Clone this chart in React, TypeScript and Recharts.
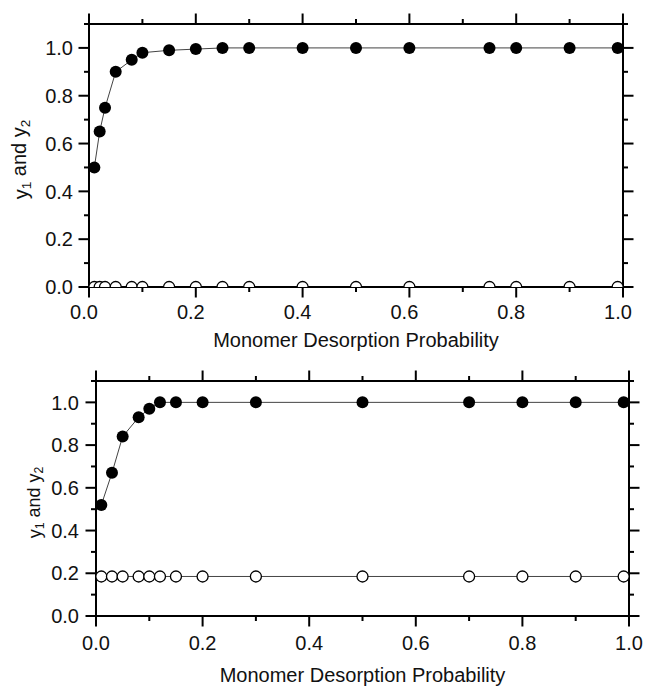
import { LineChart, Line, XAxis, YAxis } from 'recharts';

// top panel
const topX = [0.01, 0.02, 0.03, 0.05, 0.08, 0.1, 0.15, 0.2, 0.25, 0.3, 0.4, 0.5, 0.6, 0.75, 0.8, 0.9, 0.99];
const topY1 = [0.5, 0.65, 0.75, 0.9, 0.95, 0.98, 0.99, 0.995, 1, 1, 1, 1, 1, 1, 1, 1, 1];
const topY2 = [0, 0, 0, 0, 0, 0, 0, 0, 0, 0, 0, 0, 0, 0, 0, 0, 0];

// bottom panel
const bottomX = [0.01, 0.03, 0.05, 0.08, 0.1, 0.12, 0.15, 0.2, 0.3, 0.5, 0.7, 0.8, 0.9, 0.99];
const bottomY1 = [0.52, 0.67, 0.84, 0.93, 0.97, 1, 1, 1, 1, 1, 1, 1, 1, 1];
const bottomY2 = [0.185, 0.185, 0.185, 0.185, 0.185, 0.185, 0.185, 0.185, 0.185, 0.185, 0.185, 0.185, 0.185, 0.185];

const xTicks = [0, 0.1, 0.2, 0.3, 0.4, 0.5, 0.6, 0.7, 0.8, 0.9, 1.0];
const yTicks = [0, 0.1, 0.2, 0.3, 0.4, 0.5, 0.6, 0.7, 0.8, 0.9, 1.0, 1.1];

const xTitle = 'Monomer Desorption Probability';
const FONT = "'Liberation Sans', Arial, Helvetica, sans-serif";

function Tick(props: any) {
  const { x, y, payload, side, labelled, dx = 0, gap = 0 } = props;
  const v = payload.value;
  const major = Math.round(v * 10) % 2 === 0;
  const len = major ? 10.5 : 5;
  const lineProps = { stroke: '#000', strokeWidth: 2 };
  const showText = labelled && major && v <= 1.0001;
  const txt = v.toFixed(1);
  if (side === 'bottom') {
    return (
      <g>
        <line x1={x} y1={y} x2={x} y2={y + len} {...lineProps} />
        {showText && (
          <text x={x + dx} y={y + gap} textAnchor="middle" fontSize={20} fontFamily={FONT} fill="#111">{txt}</text>
        )}
      </g>
    );
  }
  if (side === 'top') {
    return <line x1={x} y1={y} x2={x} y2={y - len} {...lineProps} />;
  }
  if (side === 'left') {
    return (
      <g>
        <line x1={x} y1={y} x2={x - len} y2={y} {...lineProps} />
        {showText && (
          <text x={x - gap} y={y} dy="0.36em" textAnchor="end" fontSize={20} fontFamily={FONT} fill="#111">{txt}</text>
        )}
      </g>
    );
  }
  return <line x1={x} y1={y} x2={x + len} y2={y} {...lineProps} />;
}

function Panel(props: any) {
  const { xs, y1, y2, height, margin, xLabelGap, xLabelDx, yLabelGap, xTitleDist, yTitleDist, yTitleDy, yTitleSize } = props;
  const data = xs.map((x: number, i: number) => ({ x, y1: y1[i], y2: y2[i] }));
  const axisLine = { stroke: '#000', strokeWidth: 2, strokeLinecap: 'square' as const };
  return (
    <LineChart width={645} height={height} data={data} margin={margin}>
      <XAxis
        dataKey="x"
        type="number"
        domain={[0, 1]}
        ticks={xTicks}
        allowDataOverflow
        height={1}
        tickSize={0}
        tickMargin={0}
        tickLine={false}
        axisLine={axisLine}
        interval={0}
        tick={(p: any) => <Tick {...p} side="bottom" labelled gap={xLabelGap} dx={xLabelDx} />}
        label={(p: any) => {
          const vb = p.viewBox;
          return (
            <text x={vb.x + vb.width / 2} y={vb.y + xTitleDist} textAnchor="middle" fontSize={20} fontFamily={FONT} fill="#111">
              {xTitle}
            </text>
          );
        }}
      />
      <XAxis
        xAxisId="top"
        orientation="top"
        dataKey="x"
        type="number"
        domain={[0, 1]}
        ticks={xTicks}
        allowDataOverflow
        height={1}
        tickSize={0}
        tickMargin={0}
        tickLine={false}
        axisLine={axisLine}
        interval={0}
        tick={(p: any) => <Tick {...p} side="top" />}
      />
      <YAxis
        type="number"
        domain={[0, 1.1]}
        ticks={yTicks}
        allowDataOverflow
        width={1}
        tickSize={0}
        tickMargin={0}
        tickLine={false}
        axisLine={axisLine}
        interval={0}
        tick={(p: any) => <Tick {...p} side="left" labelled gap={yLabelGap} />}
        label={(p: any) => {
          const vb = p.viewBox;
          const cx = vb.x + vb.width - yTitleDist;
          const cy = vb.y + vb.height / 2 + yTitleDy;
          return (
            <text
              x={cx}
              y={cy}
              transform={`rotate(-90 ${cx} ${cy})`}
              textAnchor="middle"
              fontSize={yTitleSize}
              fontFamily={FONT}
              fill="#111"
            >
              y<tspan fontSize={yTitleSize * 0.68} dy="0.25em">1</tspan>
              <tspan dy="-0.25em"> and y</tspan>
              <tspan fontSize={yTitleSize * 0.68} dy="0.25em">2</tspan>
            </text>
          );
        }}
      />
      <YAxis
        yAxisId="right"
        orientation="right"
        type="number"
        domain={[0, 1.1]}
        ticks={yTicks}
        allowDataOverflow
        width={1}
        tickSize={0}
        tickMargin={0}
        tickLine={false}
        axisLine={axisLine}
        interval={0}
        tick={(p: any) => <Tick {...p} side="right" />}
      />
      <Line
        dataKey="y2"
        stroke="#444"
        strokeWidth={1}
        dot={{ r: 5.5, fill: '#fff', stroke: '#000', strokeWidth: 1.3 }}
        activeDot={false}
        isAnimationActive={false}
      />
      <Line
        dataKey="y1"
        stroke="#444"
        strokeWidth={1}
        dot={{ r: 6, fill: '#000', stroke: '#000', strokeWidth: 0 }}
        activeDot={false}
        isAnimationActive={false}
      />
    </LineChart>
  );
}

export default function App() {
  return (
    <div style={{ position: 'absolute', left: 0, top: 0, width: 645, height: 687, background: '#fff' }}>
      <div style={{ position: 'absolute', left: 0, top: 0 }}>
        <Panel
          xs={topX}
          y1={topY1}
          y2={topY2}
          height={355}
          margin={{ top: 23, right: 21, bottom: 67, left: 88 }}
          xLabelGap={32}
          xLabelDx={-5}
          yLabelGap={16}
          xTitleDist={60}
          yTitleDist={61}
          yTitleDy={4}
          yTitleSize={20}
        />
      </div>
      <div style={{ position: 'absolute', left: 0, top: 355 }}>
        <Panel
          xs={bottomX}
          y1={bottomY1}
          y2={bottomY2}
          height={332}
          margin={{ top: 25, right: 15, bottom: 70, left: 95 }}
          xLabelGap={34}
          xLabelDx={0}
          yLabelGap={17}
          xTitleDist={66}
          yTitleDist={55}
          yTitleDy={4}
          yTitleSize={18}
        />
      </div>
    </div>
  );
}
